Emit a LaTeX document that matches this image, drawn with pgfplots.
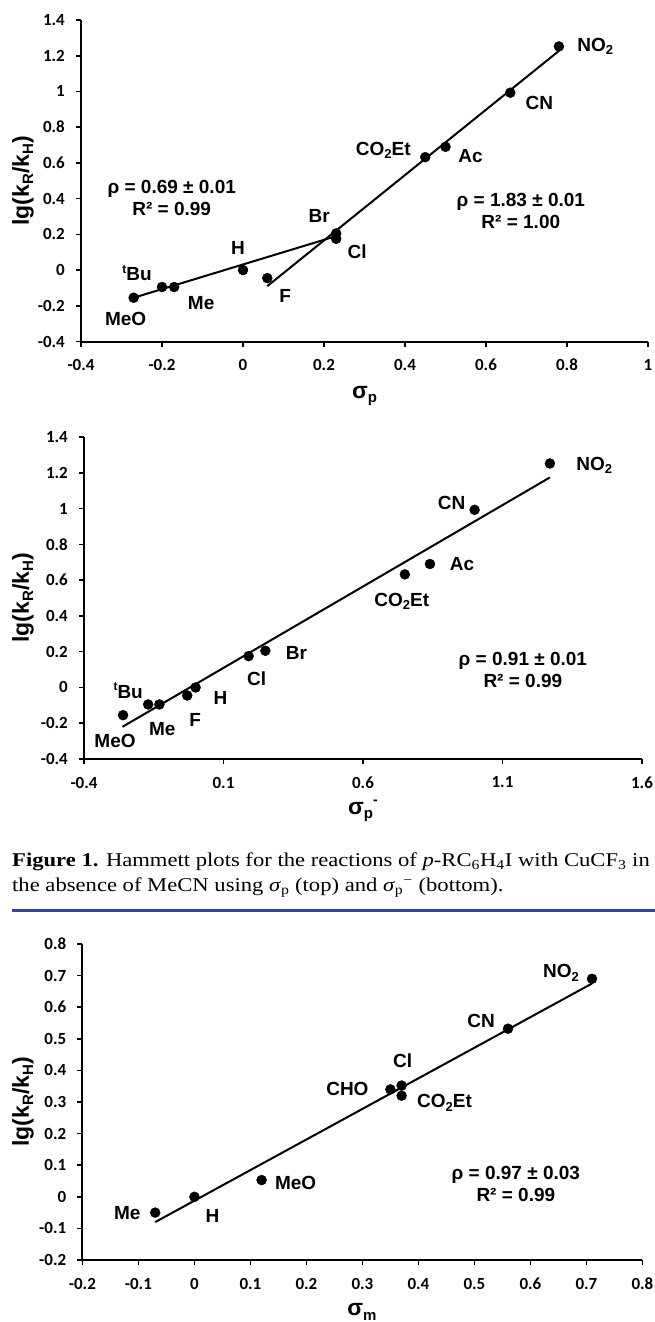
\documentclass[border=0pt]{standalone}
\usepackage{fontspec}
\setmainfont{Liberation Serif}
\newfontfamily\lab{Liberation Sans}
\newfontfamily\tck{Carlito}
\usepackage{pgfplots}
\pgfplotsset{compat=1.18}
\definecolor{rulebl}{HTML}{34449A}

\newcommand{\sub}[1]{\raisebox{-0.35ex}{\fontsize{13}{13}\selectfont #1}}
\newcommand{\sups}[1]{\raisebox{0.75ex}{\fontsize{12}{12}\selectfont #1}}
\newcommand{\asub}[1]{\raisebox{-0.35ex}{\fontsize{15}{15}\selectfont #1}}
\newcommand{\asup}[1]{\raisebox{0.8ex}{\fontsize{14}{14}\selectfont #1}}
\newcommand{\lblf}{\lab\bfseries\fontsize{19}{22}\selectfont}
\newcommand{\axl}{\lab\bfseries\fontsize{23}{25}\selectfont}
\tikzset{lbl/.style={font=\lblf}, axt/.style={font=\axl,inner sep=0pt}}

\pgfplotsset{hm/.style={
    scale only axis, clip=false,
    axis x line*=bottom, axis y line*=left,
    axis line style={line width=2pt,-},
    every outer x axis line/.append style={-},
    every outer y axis line/.append style={-},
    tick align=outside, major tick length=5pt,
    every tick/.style={black,line width=1.6pt},
    tick label style={font=\tck\bfseries\fontsize{17}{17}\selectfont},
    xticklabel style={anchor=center,inner sep=0pt,yshift=-18.5pt},
    yticklabel style={anchor=east,inner sep=0pt,xshift=-11pt},
  }}

\begin{document}
\begin{tikzpicture}
\path[use as bounding box] (0pt,0pt) rectangle (655pt,-1322pt);

% ---- top: sigma_p
\begin{axis}[hm, at={(81pt,-341.5pt)}, anchor=south west,
    width=567pt, height=321.5pt,
    xmin=-0.4, xmax=1, ymin=-0.4, ymax=1.4,
    xtick={-0.4,-0.2,0,0.2,0.4,0.6,0.8,1},
    xticklabels={-0.4,-0.2,0,0.2,0.4,0.6,0.8,1},
    ytick={-0.4,-0.2,0,0.2,0.4,0.6,0.8,1,1.2,1.4},
    yticklabels={-0.4,-0.2,0,0.2,0.4,0.6,0.8,1,1.2,1.4}]
  \addplot[black,line width=2pt] coordinates {(-0.27,-0.155) (0.23,0.19)};
  \addplot[black,line width=2pt] coordinates {(0.06,-0.09) (0.78,1.227)};
  \addplot[only marks,mark=*,mark size=5pt,black] coordinates {
    (-0.27,-0.155) (-0.20,-0.095) (-0.17,-0.095) (0,0) (0.06,-0.045)
    (0.23,0.175) (0.23,0.205) (0.45,0.632) (0.50,0.69) (0.66,0.993) (0.78,1.252)};
  \node[lbl,anchor=west,xshift=15pt] at (axis cs:0.78,1.252) {NO\sub{2}};
  \node[lbl,xshift=29pt,yshift=-10pt] at (axis cs:0.66,0.993) {CN};
  \node[lbl,xshift=25pt,yshift=-9pt] at (axis cs:0.50,0.69) {Ac};
  \node[lbl,xshift=-42pt,yshift=7pt] at (axis cs:0.45,0.632) {CO\sub{2}Et};
  \node[lbl,xshift=-17pt,yshift=17pt] at (axis cs:0.23,0.205) {Br};
  \node[lbl,xshift=21pt,yshift=-13pt] at (axis cs:0.23,0.175) {Cl};
  \node[lbl,xshift=-5pt,yshift=22pt] at (axis cs:0,0) {H};
  \node[lbl,xshift=18pt,yshift=-18pt] at (axis cs:0.06,-0.045) {F};
  \node[lbl,xshift=-25pt,yshift=14pt] at (axis cs:-0.20,-0.095) {\sups{t}Bu};
  \node[lbl,xshift=27pt,yshift=-16pt] at (axis cs:-0.17,-0.095) {Me};
  \node[lbl,xshift=-8pt,yshift=-21pt] at (axis cs:-0.27,-0.155) {MeO};
  \node[lbl,align=center] at (axis cs:-0.176,0.403) {ρ = 0.69 ± 0.01\\R² = 0.99};
  \node[lbl,align=center] at (axis cs:0.686,0.331) {ρ = 1.83 ± 0.01\\R² = 1.00};
\end{axis}
\node[axt] at (364.5pt,-396pt) {σ\asub{p}};
\node[axt,rotate=90] at (23pt,-180.75pt) {lg(k\asub{R}/k\asub{H})};

% ---- middle: sigma_p^-
\begin{axis}[hm, at={(84pt,-759pt)}, anchor=south west,
    width=558pt, height=322pt,
    xmin=-0.4, xmax=1.6, ymin=-0.4, ymax=1.4,
    xtick={-0.4,0.1,0.6,1.1,1.6},
    xticklabels={-0.4,0.1,0.6,1.1,1.6},
    ytick={-0.4,-0.2,0,0.2,0.4,0.6,0.8,1,1.2,1.4},
    yticklabels={-0.4,-0.2,0,0.2,0.4,0.6,0.8,1,1.2,1.4}]
  \addplot[black,line width=2pt] coordinates {(-0.262,-0.22) (1.27,1.174)};
  \addplot[only marks,mark=*,mark size=5pt,black] coordinates {
    (-0.26,-0.155) (-0.17,-0.095) (-0.13,-0.095) (-0.03,-0.045) (0,0)
    (0.19,0.175) (0.25,0.205) (0.75,0.632) (0.84,0.69) (1.00,0.993) (1.27,1.252)};
  \node[lbl,anchor=west,xshift=23pt,yshift=-2pt] at (axis cs:1.27,1.252) {NO\sub{2}};
  \node[lbl,xshift=-23pt,yshift=7pt] at (axis cs:1.00,0.993) {CN};
  \node[lbl,xshift=32pt] at (axis cs:0.84,0.69) {Ac};
  \node[lbl,xshift=-3pt,yshift=-27pt] at (axis cs:0.75,0.632) {CO\sub{2}Et};
  \node[lbl,xshift=31pt,yshift=-2pt] at (axis cs:0.25,0.205) {Br};
  \node[lbl,xshift=8pt,yshift=-23pt] at (axis cs:0.19,0.175) {Cl};
  \node[lbl,xshift=25pt,yshift=-11pt] at (axis cs:0,0) {H};
  \node[lbl,xshift=8pt,yshift=-24pt] at (axis cs:-0.03,-0.045) {F};
  \node[lbl,xshift=-20pt,yshift=14pt] at (axis cs:-0.17,-0.095) {\sups{t}Bu};
  \node[lbl,xshift=3pt,yshift=-25pt] at (axis cs:-0.13,-0.095) {Me};
  \node[lbl,xshift=-8pt,yshift=-26pt] at (axis cs:-0.26,-0.155) {MeO};
  \node[lbl,align=center] at (axis cs:1.173,0.10) {ρ = 0.91 ± 0.01\\R² = 0.99};
\end{axis}
\node[axt] at (363pt,-811pt) {σ\asub{p}\asup{-}};
\node[axt,rotate=90] at (23pt,-598pt) {lg(k\asub{R}/k\asub{H})};

% ---- caption and rule
\node[anchor=base west,inner sep=0pt,font=\fontsize{19.5}{25}\selectfont] at (12pt,-866.7pt)
  {\scalebox{1.16}[1]{\textbf{Figure 1.} Hammett plots for the reactions of \textit{p}-RC\textsubscript{6}H\textsubscript{4}I with CuCF\textsubscript{3} in}};
\node[anchor=base west,inner sep=0pt,font=\fontsize{19.5}{25}\selectfont] at (12pt,-891.7pt)
  {\scalebox{1.16}[1]{the absence of MeCN using \textit{σ}\textsubscript{p} (top) and \textit{σ}\textsubscript{p}\textsuperscript{−} (bottom).}};
\draw[rulebl,line width=2.6pt] (12pt,-910.7pt) -- (655pt,-910.7pt);

% ---- bottom: sigma_m
\begin{axis}[hm, at={(82.4pt,-1260pt)}, anchor=south west,
    width=560pt, height=316pt,
    xmin=-0.2, xmax=0.8, ymin=-0.2, ymax=0.8,
    xtick={-0.2,-0.1,0,0.1,0.2,0.3,0.4,0.5,0.6,0.7,0.8},
    xticklabels={-0.2,-0.1,0,0.1,0.2,0.3,0.4,0.5,0.6,0.7,0.8},
    ytick={-0.2,-0.1,0,0.1,0.2,0.3,0.4,0.5,0.6,0.7,0.8},
    yticklabels={-0.2,-0.1,0,0.1,0.2,0.3,0.4,0.5,0.6,0.7,0.8}]
  \addplot[black,line width=2pt] coordinates {(-0.07,-0.08) (0.71,0.675)};
  \addplot[only marks,mark=*,mark size=5pt,black] coordinates {
    (-0.07,-0.05) (0,0) (0.12,0.053) (0.35,0.34) (0.37,0.352) (0.37,0.32)
    (0.56,0.532) (0.71,0.69)};
  \node[lbl,xshift=-31pt,yshift=6pt] at (axis cs:0.71,0.69) {NO\sub{2}};
  \node[lbl,xshift=-27pt,yshift=8pt] at (axis cs:0.56,0.532) {CN};
  \node[lbl,xshift=1pt,yshift=25pt] at (axis cs:0.37,0.352) {Cl};
  \node[lbl,xshift=-43pt] at (axis cs:0.35,0.34) {CHO};
  \node[lbl,xshift=43pt,yshift=-7pt] at (axis cs:0.37,0.32) {CO\sub{2}Et};
  \node[lbl,xshift=34pt,yshift=-3pt] at (axis cs:0.12,0.053) {MeO};
  \node[lbl,xshift=18pt,yshift=-19pt] at (axis cs:0,0) {H};
  \node[lbl,xshift=-28pt] at (axis cs:-0.07,-0.05) {Me};
  \node[lbl,align=center] at (axis cs:0.574,0.04) {ρ = 0.97 ± 0.03\\R² = 0.99};
\end{axis}
\node[axt] at (362pt,-1312pt) {σ\asub{m}};
\node[axt,rotate=90] at (23pt,-1102pt) {lg(k\asub{R}/k\asub{H})};
\end{tikzpicture}
\end{document}
